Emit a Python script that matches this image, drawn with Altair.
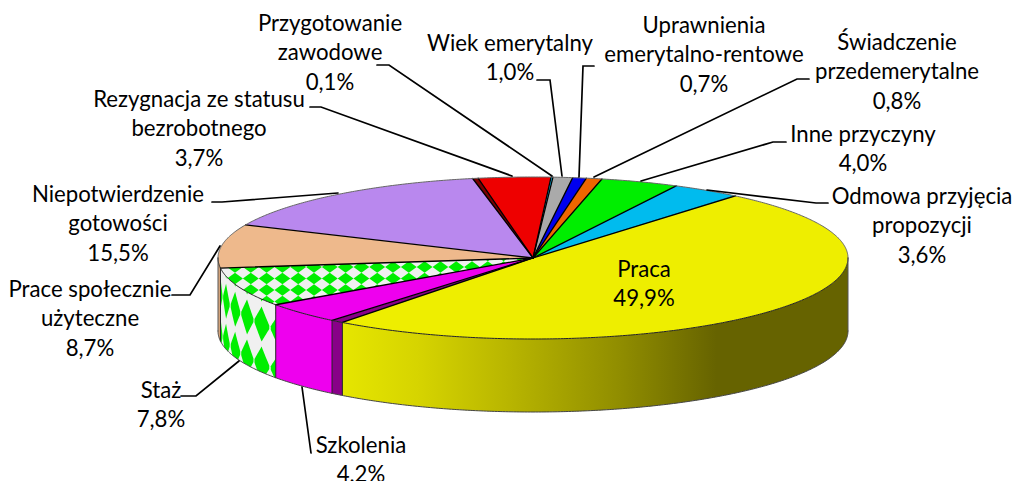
import math
import altair as alt
import pandas as pd

# ---- data, clockwise from the start of "Praca"
names = ["Praca", "Szkolenia", "Staż", "Prace społecznie użyteczne", "Niepotwierdzenie gotowości",
         "Rezygnacja ze statusu bezrobotnego", "Przygotowanie zawodowe", "Wiek emerytalny",
         "Uprawnienia emerytalno-rentowe", "Świadczenie przedemerytalne", "Inne przyczyny",
         "Odmowa przyjęcia propozycji"]
values = [49.9, 4.2, 7.8, 8.7, 15.5, 3.7, 0.1, 1.0, 0.7, 0.8, 4.0, 3.6]
colors = ["#eeee00", "#ee00ee", "#f0f0f0", "#eeb98c", "#b988ee", "#ee0000", "#00bbee", "#aaaaaa",
          "#0000ee", "#ee6600", "#00ee00", "#00bbee"]

label_lines = [
    (["Praca", "49,9%"], 644, 270),
    (["Szkolenia", "4,2%"], 361, 446),
    (["Staż", "7,8%"], 161, 391),
    (["Prace społecznie", "użyteczne", "8,7%"], 90, 290),
    (["Niepotwierdzenie", "gotowości", "15,5%"], 118, 195),
    (["Rezygnacja ze statusu", "bezrobotnego", "3,7%"], 199, 100),
    (["Przygotowanie", "zawodowe", "0,1%"], 330, 24),
    (["Wiek emerytalny", "1,0%"], 510, 44),
    (["Uprawnienia", "emerytalno-rentowe", "0,7%"], 704, 26),
    (["Świadczenie", "przedemerytalne", "0,8%"], 897, 43),
    (["Inne przyczyny", "4,0%"], 863, 135),
    (["Odmowa przyjęcia", "propozycji", "3,6%"], 922, 197),
]
leaders = [
    [(302, 387), (311, 453)],
    [(181, 396), (196, 396), (239, 361)],
    [(172, 295), (190, 295), (220, 246)],
    [(212, 202), (222, 202), (338, 193)],
    [(310, 107), (321, 107), (512, 176)],
    [(377, 65), (389, 65), (552, 176)],
    [(537, 80), (550, 80), (562, 176)],
    [(594, 66), (583, 66), (579, 177)],
    [(809, 79), (797, 79), (594, 177)],
    [(786, 142), (773, 142), (641, 181)],
    [(828, 203), (816, 203), (707, 190)],
]

# ---- pie geometry
CX, CY, A, B = 533, 258, 315, 81
CYB, BB = 331, 81
T0 = 50.0


def top(t):
    r = math.radians(t)
    return CX + A * math.cos(r), CY - B * math.sin(r)


def bot(t):
    r = math.radians(t)
    return CX + A * math.cos(r), CYB - BB * math.sin(r)


def samples(t1, t2, step=0.5):
    n = max(2, int(abs(t2 - t1) / step) + 1)
    return [t1 + (t2 - t1) * i / (n - 1) for i in range(n)]


bounds = [T0]
for v in values:
    bounds.append(bounds[-1] - v * 3.6)

X = alt.X("x:Q", scale=alt.Scale(domain=[8, 1012], nice=False, zero=False), axis=None)
Y = alt.Y("y:Q", scale=alt.Scale(domain=[481, 8], nice=False, zero=False), axis=None)


def poly(points, fill):
    df = pd.DataFrame([{"x": p[0], "y": p[1], "i": i} for i, p in enumerate(points)])
    return alt.Chart(df).mark_line(fill=fill, strokeWidth=0, interpolate="linear-closed").encode(
        x=X, y=Y, order=alt.Order("i:Q"))


def wedge(t1, t2, fill):
    return poly([(CX, CY)] + [top(t) for t in samples(t1, t2)], fill)


def path(points, color, width):
    df = pd.DataFrame([{"x": p[0], "y": p[1], "i": i} for i, p in enumerate(points)])
    return alt.Chart(df).mark_line(stroke=color, strokeWidth=width, strokeCap="round").encode(
        x=X, y=Y, order=alt.Order("i:Q"))


def wall(t1, t2, fill):
    rows = []
    for t in samples(t1, t2):
        x, y = top(t)
        rows.append({"x": x, "y": y, "y2": bot(t)[1]})
    return alt.Chart(pd.DataFrame(rows)).mark_area(color=fill, strokeWidth=0).encode(
        x=X, y=Y, y2="y2:Q")


layers = []
YEL_END = bounds[1] + 2.4  # yellow is pulled away, showing the wall of the next slice

# Staż top, pattern
layers.append(wedge(bounds[2], bounds[3], colors[2]))
top_diamonds = []
for r in range(6):
    for c in range(20):
        px, py = 235 + 15.8 * c, 255.5 + 11.5 * r
        if px < 530:
            top_diamonds.append({"x": px, "y": py})
layers.append(alt.Chart(pd.DataFrame(top_diamonds)).mark_point(
    shape="M-1,0L0,-0.72L1,0L0,0.72Z", filled=True, fill="#00ee00", size=250, strokeWidth=0, opacity=1
).encode(x=X, y=Y))

# walls
layers.append(wall(bounds[3], -180, "#dca97e"))
layers.append(wall(bounds[2], bounds[3], colors[2]))
layers.append(wall(bounds[1], bounds[2], "#ee00ee"))
layers.append(wall(bounds[1], YEL_END, "#880088"))
grad = alt.Gradient(gradient="linear", x1=0, x2=1, y1=0, y2=0, stops=[
    alt.GradientStop(color="#e6e600", offset=0),
    alt.GradientStop(color="#d6d400", offset=0.15),
    alt.GradientStop(color="#b8b500", offset=0.33),
    alt.GradientStop(color="#908d00", offset=0.55),
    alt.GradientStop(color="#666300", offset=0.74),
    alt.GradientStop(color="#666300", offset=1),
])
yrows = []
for t in samples(YEL_END, 0):
    x, y = top(t)
    yrows.append({"x": x, "y": y, "y2": bot(t)[1]})
layers.append(alt.Chart(pd.DataFrame(yrows)).mark_area(color=grad, strokeWidth=0).encode(x=X, y=Y, y2="y2:Q"))

# wall pattern (long diamonds, clipped to the wall of Staż)
rows = []
did = 0
for tc in [-143.7, -149.5, -155.2, -161.0, -167.0, -173.0]:
    for off in [-15, 25, 65]:
        did += 1
        for k in range(-10, 11):
            u = k / 10
            t = tc + 2.95 * u
            if t > bounds[2] or t < bounds[3]:
                continue
            x, yt = top(t)
            yb = bot(t)[1]
            h = 17.5 * (1 - abs(u))
            y1 = max(yt + off - h, yt)
            y2 = min(yt + off + h, yb)
            if y1 < y2:
                rows.append({"x": x, "y": y1, "y2": y2, "d": did})
layers.append(alt.Chart(pd.DataFrame(rows)).mark_area(color="#00ee00", strokeWidth=0).encode(
    x=X, y=Y, y2="y2:Q", detail="d:N"))

# top faces of the other slices
for i in range(len(values)):
    if i == 2:
        continue
    if i == 0:
        layers.append(wedge(YEL_END, bounds[0], colors[0]))
    else:
        layers.append(wedge(bounds[i + 1], bounds[i], colors[i]))
layers.append(wedge(bounds[1], YEL_END, "#880088"))
layers.append(wedge(bounds[5], bounds[5] + 1.0, "#7a0000"))
layers.append(wedge(bounds[0], bounds[0] + 0.5, "#0b7c9c"))

# edges
for b in bounds[1:-1] + [YEL_END, bounds[0], bounds[5] + 1.0]:
    layers.append(path([(CX, CY), top(b)], "#000000", 1.3))
for b in [bounds[1], bounds[2], bounds[3], YEL_END]:
    layers.append(path([top(b), bot(b)], "#222222", 1))
layers.append(path([top(t) for t in samples(0, -180)], "#222222", 1))
layers.append(path([bot(t) for t in samples(0, -180)], "#444444", 1))
layers.append(path([top(t) for t in samples(0, 180)], "#666666", 1))
layers.append(path([top(0), bot(0)], "#555555", 1))
layers.append(path([top(-180), bot(-180)], "#555555", 1))

# leader lines
for pts in leaders:
    layers.append(path(pts, "#000000", 1.7))

# labels
text_rows = []
for lines, cx, y0 in label_lines:
    for j, line in enumerate(lines):
        text_rows.append({"x": cx, "y": y0 + 29.4 * j, "t": line})
layers.append(alt.Chart(pd.DataFrame(text_rows)).mark_text(
    font="Lato", fontSize=22.2, color="#000000", align="center", baseline="middle"
).encode(x=X, y=Y, text="t:N"))

chart = alt.layer(*layers).properties(
    width=1004, height=473, padding=0, autosize="none", background="white"
).configure_view(stroke=None)

chart.save("out.html", embed_options={"renderer": "svg", "actions": False})
